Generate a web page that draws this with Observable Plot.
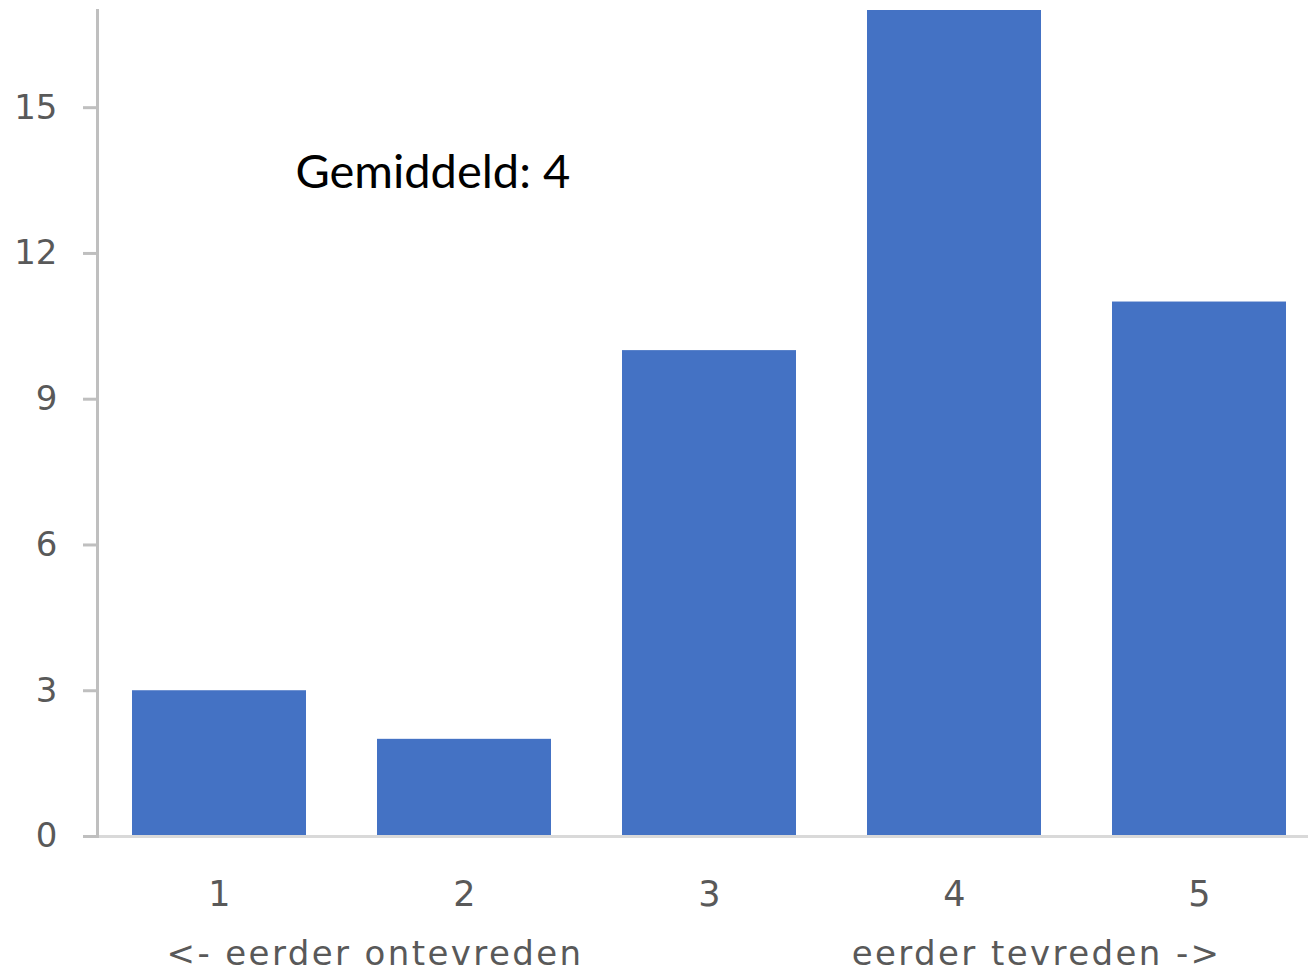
<!DOCTYPE html>
<html>
<head>
<meta charset="utf-8">
<script src="https://cdn.jsdelivr.net/npm/d3@7"></script>
<script src="https://cdn.jsdelivr.net/npm/@observablehq/plot@0.6"></script>
<style>
  html, body { margin: 0; padding: 0; background: #fff; }
  #chart svg { display: block; }
</style>
</head>
<body>
<div id="chart"></div>
<script>
// Data
const categories = ["1", "2", "3", "4", "5"];
const counts = [3, 2, 10, 17, 11];
const yTicks = [0, 3, 6, 9, 12, 15];
const leftLabel = ["<- eerder ontevreden"];
const leftCategory = "1";
const rightLabel = ["eerder tevreden ->"];
const rightCategory = "5";
const annotationText = ["Gemiddeld: 4"];

const data = categories.map((c, i) => ({category: c, count: counts[i]}));

const axisFont = "'DejaVu Sans', sans-serif";
const grayText = "#595959";

const chart = Plot.plot({
  width: 1308,
  height: 979,
  marginTop: 10,
  marginLeft: 97,
  marginRight: 0,
  marginBottom: 143,
  style: {fontFamily: axisFont, background: "#fff"},
  x: {
    domain: categories,
    range: [96, 1322],
    paddingInner: 0.29,
    paddingOuter: 0.145,
    label: null
  },
  y: {domain: [0, 17], label: null},
  marks: [
    Plot.barY(data, {x: "category", y: "count", fill: "#4472c4"}),
    Plot.ruleY([0], {stroke: "#d9d9d9", strokeWidth: 3}),
    Plot.frame({anchor: "left", stroke: "#bfbfbf", strokeWidth: 3}),
    Plot.axisY({
      ticks: yTicks,
      tickSize: 14,
      tickPadding: 26,
      stroke: "#bfbfbf",
      strokeWidth: 3,
      fill: grayText,
      fontSize: 34,
      label: null
    }),
    Plot.axisX({
      tickSize: 0,
      tickPadding: 45,
      fill: grayText,
      fontSize: 35,
      label: null
    }),
    Plot.text(leftLabel, {
      x: () => leftCategory,
      text: (d) => d,
      frameAnchor: "bottom",
      lineAnchor: "middle",
      textAnchor: "start",
      dx: -53,
      dy: 118,
      fill: grayText,
      fontSize: 34
    }),
    Plot.text(rightLabel, {
      x: () => rightCategory,
      text: (d) => d,
      frameAnchor: "bottom",
      lineAnchor: "middle",
      textAnchor: "end",
      dx: 22,
      dy: 118,
      fill: grayText,
      fontSize: 34
    }),
    Plot.text(annotationText, {
      text: (d) => d,
      frameAnchor: "top-left",
      textAnchor: "start",
      dx: 198,
      dy: 144,
      fill: "#000",
      fontSize: 47,
      fontFamily: "Lato, sans-serif"
    })
  ]
});

// widen the spacing of the two side labels to match the reference rendering
const sideTexts = leftLabel.concat(rightLabel);
d3.select(chart).selectAll("text")
  .filter(function () { return sideTexts.includes(this.textContent); })
  .attr("letter-spacing", "2.4px");

document.getElementById("chart").appendChild(chart);
</script>
</body>
</html>
